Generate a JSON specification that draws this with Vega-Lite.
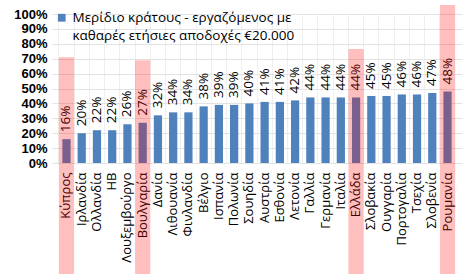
{
  "$schema": "https://vega.github.io/schema/vega-lite/v6.json",
  "autosize": {"type": "none"},
  "width": 410,
  "height": 149,
  "padding": {"left": 52, "top": 14, "right": 6, "bottom": 111},
  "background": "white",
  "config": {
    "view": {"stroke": null},
    "font": "Open Sans",
    "axis": {"labelFont": "Open Sans", "labelColor": "#000000"},
    "axisY": {"labelOverlap": false}
  },
  "data": {
    "values": [
      {"country": "Κύπρος", "share": 0.16, "highlight_top": 0.71},
      {"country": "Ιρλανδία", "share": 0.20, "highlight_top": null},
      {"country": "Ολλανδία", "share": 0.22, "highlight_top": null},
      {"country": "ΗΒ", "share": 0.22, "highlight_top": null},
      {"country": "Λουξεμβούργο", "share": 0.26, "highlight_top": null},
      {"country": "Βουλγαρία", "share": 0.27, "highlight_top": 0.69},
      {"country": "Δανία", "share": 0.32, "highlight_top": null},
      {"country": "Λιθουανία", "share": 0.34, "highlight_top": null},
      {"country": "Φινλανδία", "share": 0.34, "highlight_top": null},
      {"country": "Βέλγιο", "share": 0.38, "highlight_top": null},
      {"country": "Ισπανία", "share": 0.39, "highlight_top": null},
      {"country": "Πολωνία", "share": 0.39, "highlight_top": null},
      {"country": "Σουηδία", "share": 0.40, "highlight_top": null},
      {"country": "Αυστρία", "share": 0.41, "highlight_top": null},
      {"country": "Εσθονία", "share": 0.41, "highlight_top": null},
      {"country": "Λετονία", "share": 0.42, "highlight_top": null},
      {"country": "Γαλλία", "share": 0.44, "highlight_top": null},
      {"country": "Γερμανία", "share": 0.44, "highlight_top": null},
      {"country": "Ιταλία", "share": 0.44, "highlight_top": null},
      {"country": "Ελλάδα", "share": 0.44, "highlight_top": 0.765},
      {"country": "Σλοβακία", "share": 0.45, "highlight_top": null},
      {"country": "Ουγγαρία", "share": 0.45, "highlight_top": null},
      {"country": "Πορτογαλία", "share": 0.46, "highlight_top": null},
      {"country": "Τσεχία", "share": 0.46, "highlight_top": null},
      {"country": "Σλοβενία", "share": 0.47, "highlight_top": null},
      {"country": "Ρουμανία", "share": 0.48, "highlight_top": 1.06}
    ]
  },
  "encoding": {
    "x": {
      "field": "country",
      "type": "nominal",
      "sort": null,
      "scale": {"paddingInner": 0, "paddingOuter": 0.45},
      "axis": {
        "title": null,
        "labelAngle": -90,
        "labelFontSize": 13,
        "labelPadding": 9,
        "ticks": false,
        "domain": false,
        "grid": true,
        "bandPosition": 0,
        "gridColor": "#EFEFEF",
        "labelLimit": 200
      }
    },
    "y": {
      "field": "share",
      "type": "quantitative",
      "scale": {"domain": [0, 1], "nice": false},
      "axis": {
        "title": null,
        "format": ".0%",
        "values": [0, 0.1, 0.2, 0.3, 0.4, 0.5, 0.6, 0.7, 0.8, 0.9, 1.0],
        "labelOverlap": false,
        "labelFont": "Liberation Sans",
        "labelFontSize": 13,
        "labelFontWeight": "bold",
        "labelPadding": 5,
        "ticks": false,
        "domain": false,
        "gridColor": "#E3E3E3"
      }
    }
  },
  "layer": [
    {
      "mark": {"type": "bar", "width": {"band": 0.54}},
      "encoding": {
        "color": {
          "datum": "Μερίδιο κράτους - εργαζόμενος με|καθαρές ετήσιες αποδοχές €20.000",
          "type": "nominal",
          "scale": {"range": ["#4F81BD"]},
          "legend": {
            "title": null,
            "orient": "none",
            "legendX": 3,
            "legendY": -3,
            "symbolType": "square",
            "symbolSize": 60,
            "symbolStrokeWidth": 0,
            "labelFontSize": 13.5,
            "labelFontWeight": 500,
            "labelFont": "Open Sans",
            "labelColor": "#000000",
            "labelLimit": 400,
            "labelOffset": 4,
            "labelExpr": "split(datum.label, '|')",
            "encode": {"labels": {"update": {"lineHeight": {"value": 18}}}}
          }
        }
      }
    },
    {
      "mark": {"type": "text", "angle": -90, "align": "left", "baseline": "middle", "dx": 7, "fontSize": 13.5, "fontWeight": 500, "color": "#000000"},
      "encoding": {
        "text": {"field": "share", "type": "quantitative", "format": ".0%"}
      }
    },
    {
      "transform": [{"filter": "datum.highlight_top != null"}],
      "mark": {"type": "bar", "width": {"band": 1}, "color": "#FF0000", "opacity": 0.25, "clip": false},
      "encoding": {
        "y": {"field": "highlight_top", "type": "quantitative"},
        "y2": {"datum": -0.8}
      }
    }
  ]
}
